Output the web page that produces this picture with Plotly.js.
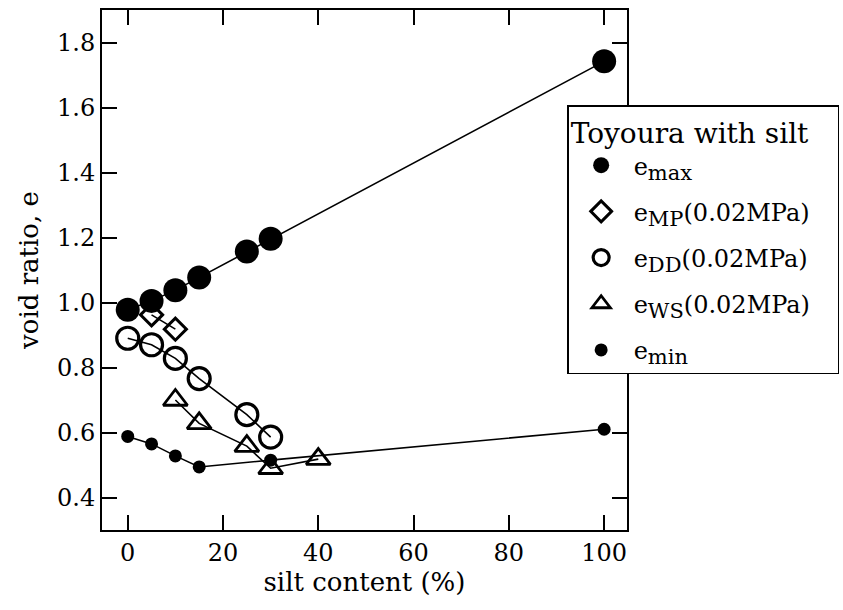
<!DOCTYPE html>
<html>
<head>
<meta charset="utf-8">
<script src="https://cdn.plot.ly/plotly-3.0.1.min.js"></script>
<style>html,body{margin:0;padding:0;background:#fff;}#chart{width:843px;height:610px;}</style>
</head>
<body>
<div id="chart"></div>
<script>
// silt content (%)
const xMax = [0, 5, 10, 15, 25, 30, 100];
const eMax = [0.978, 1.005, 1.038, 1.077, 1.157, 1.196, 1.742];
const xMP = [5, 10];
const eMP = [0.962, 0.918];
const xDD = [0, 5, 10, 15, 25, 30];
const eDD = [0.890, 0.870, 0.828, 0.766, 0.655, 0.586];
const xWS = [10, 15, 25, 30, 40];
const eWS = [0.700, 0.628, 0.558, 0.490, 0.518];
const xMin = [0, 5, 10, 15, 30, 100];
const eMin = [0.588, 0.565, 0.528, 0.494, 0.515, 0.610];

const subs = ['max', 'MP', 'DD', 'WS', 'min'];
const tails = ['', '(0.02MPa)', '(0.02MPa)', '(0.02MPa)', ''];
const legendTitle = 'Toyoura with silt';
const xTicks = [0, 20, 40, 60, 80, 100];
const yTicks = [0.4, 0.6, 0.8, 1.0, 1.2, 1.4, 1.6, 1.8];
const yTickText = ['0.4', '0.6', '0.8', '1.0', '1.2', '1.4', '1.6', '1.8'];

const names = subs.map((s, i) => 'e<sub><span style="font-size:21px">' + s + '</span></sub>' + tails[i]);

const series = [
  {x: xMax, y: eMax, m: {symbol: 'circle', size: 24, color: 'black'}},
  {x: xMP, y: eMP, m: {symbol: 'diamond-open', size: 17, color: 'black', line: {width: 3, color: 'black'}}},
  {x: xDD, y: eDD, m: {symbol: 'circle-open', size: 22, color: 'black', line: {width: 3.2, color: 'black'}}},
  {x: xWS, y: eWS, m: {symbol: 'triangle-up-open', size: 21, color: 'black', line: {width: 2.8, color: 'black'}}},
  {x: xMin, y: eMin, m: {symbol: 'circle', size: 13, color: 'black'}}
];

const traces = [];
series.forEach((s) => {
  traces.push({x: s.x, y: s.y, type: 'scatter', mode: 'lines', line: {color: 'black', width: 1.6}, showlegend: false, hoverinfo: 'skip'});
});
series.forEach((s, i) => {
  traces.push({x: s.x, y: s.y, type: 'scatter', mode: 'markers', name: names[i], legendgroup: 'g' + i, marker: s.m, showlegend: true});
});

const fam = '"DejaVu Serif", "Liberation Serif", serif';
const f = (size) => ({family: fam, size: size, color: 'black'});

const layout = {
  width: 843, height: 610,
  margin: {l: 102, r: 216, t: 10, b: 80, autoexpand: false},
  paper_bgcolor: 'white', plot_bgcolor: 'white',
  font: f(24),
  showlegend: true,
  xaxis: {
    range: [-5.4, 104.8], tickvals: xTicks,
    ticks: 'inside', ticklen: 15, tickwidth: 2, tickcolor: 'black',
    showline: true, linewidth: 2, linecolor: 'black', mirror: 'ticks',
    showgrid: false, zeroline: false,
    tickfont: f(24),
    title: {text: 'silt content (%)', font: f(26), standoff: 4}
  },
  yaxis: {
    range: [0.3, 1.9], tickvals: yTicks, ticktext: yTickText,
    ticks: 'inside', ticklen: 15, tickwidth: 2, tickcolor: 'black',
    showline: true, linewidth: 2, linecolor: 'black', mirror: 'ticks',
    showgrid: false, zeroline: false,
    tickfont: f(24),
    title: {text: 'void ratio, e', font: f(26), standoff: 11}
  },
  legend: {
    x: 0.886, xanchor: 'left', y: 0.817, yanchor: 'top',
    bgcolor: 'white', bordercolor: 'black', borderwidth: 1.5,
    font: f(24),
    title: {text: legendTitle + '&nbsp;&nbsp;&nbsp;', font: f(28)},
    itemwidth: 55, tracegroupgap: 12
  }
};

Plotly.newPlot('chart', traces, layout, {displayModeBar: false, staticPlot: true});
</script>
</body>
</html>
